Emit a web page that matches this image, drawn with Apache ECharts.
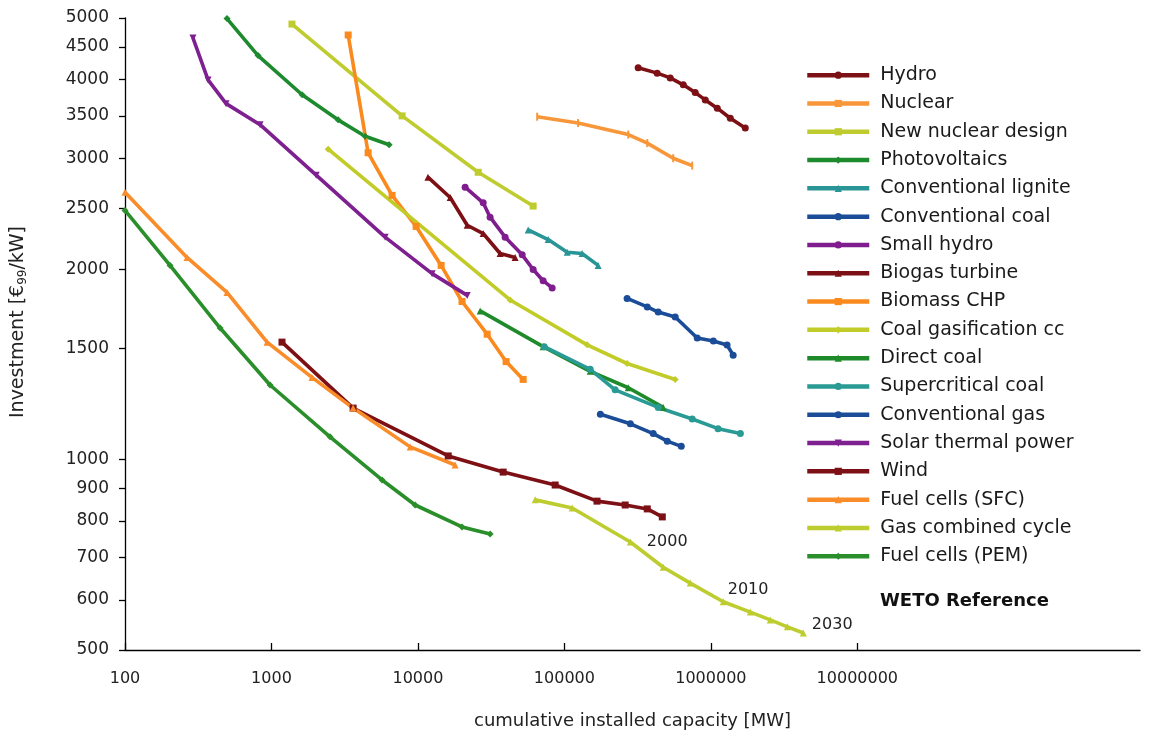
<!DOCTYPE html>
<html>
<head>
<meta charset="utf-8">
<script src="https://cdn.jsdelivr.net/npm/echarts@6/dist/echarts.min.js"></script>
<style>
  html, body { margin: 0; background: #fff; }
  #main { width: 1150px; height: 742px; }
</style>
</head>
<body>
<div id="main"></div>
<script>
  // capacities in MW, investment in EUR99/kW
  const hydroX = [319000, 430000, 528000, 648000, 782000, 916000, 1106000, 1358000, 1718000];
  const hydroY = [4170, 4090, 4020, 3920, 3810, 3710, 3600, 3470, 3350];
  const nuclearX = [65200, 124000, 273000, 368000, 553000, 746000];
  const nuclearY = [3490, 3410, 3270, 3170, 3000, 2920];
  const newNuclearX = [1380, 7800, 25800, 61200];
  const newNuclearY = [4890, 3500, 2850, 2520];
  const pvX = [497, 810, 1620, 2850, 4360, 6360];
  const pvY = [4990, 4360, 3780, 3450, 3250, 3150];
  const ligniteX = [56600, 77500, 104500, 132000, 170000];
  const ligniteY = [2310, 2230, 2130, 2120, 2030];
  const convCoalX = [268000, 368000, 437000, 571000, 807000, 1040000, 1290000, 1420000];
  const convCoalY = [1800, 1745, 1713, 1682, 1558, 1541, 1519, 1464];
  const smallHydroX = [21000, 27900, 31100, 39400, 51500, 61200, 71600, 82500];
  const smallHydroY = [2700, 2550, 2420, 2250, 2110, 2000, 1920, 1870];
  const biogasX = [11700, 16600, 21700, 27900, 36400, 46100];
  const biogasY = [2800, 2600, 2350, 2280, 2120, 2090];
  const biomassX = [3340, 4570, 6660, 9720, 14400, 20000, 29700, 40000, 52300];
  const biomassY = [4700, 3060, 2620, 2340, 2030, 1780, 1580, 1430, 1340];
  const coalGasX = [2440, 42600, 143000, 268000, 571000];
  const coalGasY = [3100, 1790, 1520, 1420, 1340];
  const directCoalX = [26600, 71600, 150000, 273000, 473000];
  const directCoalY = [1720, 1510, 1380, 1300, 1210];
  const superCoalX = [72800, 150000, 222000, 437000, 746000, 1120000, 1590000];
  const superCoalY = [1510, 1390, 1290, 1210, 1160, 1120, 1100];
  const convGasX = [176000, 282000, 404000, 504000, 628000];
  const convGasY = [1180, 1140, 1100, 1070, 1050];
  const solarX = [291, 369, 490, 836, 2020, 5970, 12500, 21700];
  const solarY = [4650, 3990, 3660, 3390, 2820, 2250, 1970, 1820];
  const windX = [1180, 3610, 16100, 38200, 86500, 167000, 260000, 368000, 466000];
  const windY = [1535, 1207, 1014, 956, 912, 860, 848, 836, 812];
  const sfcX = [100, 265, 497, 933, 1890, 3610, 8850, 17950];
  const sfcY = [2650, 2090, 1840, 1535, 1350, 1207, 1048, 981];
  const pemX = [100, 203, 446, 978, 2510, 5690, 9570, 20000, 31100];
  const pemY = [2480, 2030, 1616, 1313, 1087, 929, 848, 783, 763];
  const gccX = [63200, 113000, 282000, 473000, 723000, 1215000, 1860000, 2545000, 3330000, 4280000];
  const gccY = [864, 839, 741, 676, 638, 596, 574, 558, 544, 532];

  const yearLabels = ['2000', '2010', '2030'];
  const yearIdx = [2, 5, 9];

  const xTicks = [100, 1000, 10000, 100000, 1000000, 10000000];
  const yTicks = [500, 600, 700, 800, 900, 1000, 1500, 2000, 2500, 3000, 3500, 4000, 4500, 5000];

  const FONT = 'DejaVu Sans';
  const lg = Math.log10;

  const defs = [
    ['Hydro', hydroX, hydroY, '#7d1015', 'circle'],
    ['Nuclear', nuclearX, nuclearY, '#f8963a', 'rect'],
    ['New nuclear design', newNuclearX, newNuclearY, '#bfcc30', 'rect'],
    ['Photovoltaics', pvX, pvY, '#1d8a2e', 'diamond'],
    ['Conventional lignite', ligniteX, ligniteY, '#2a9596', 'triangle'],
    ['Conventional coal', convCoalX, convCoalY, '#1b4c98', 'circle'],
    ['Small hydro', smallHydroX, smallHydroY, '#801d8e', 'circle'],
    ['Biogas turbine', biogasX, biogasY, '#7d1015', 'triangle'],
    ['Biomass CHP', biomassX, biomassY, '#fb8a1e', 'rect'],
    ['Coal gasification cc', coalGasX, coalGasY, '#c2cc28', 'diamond'],
    ['Direct coal', directCoalX, directCoalY, '#1f8a2a', 'triangle'],
    ['Supercritical coal', superCoalX, superCoalY, '#2a9a95', 'circle'],
    ['Conventional gas', convGasX, convGasY, '#1b4c98', 'circle'],
    ['Solar thermal power', solarX, solarY, '#7f2090', 'triangle'],
    ['Wind', windX, windY, '#7d1015', 'rect'],
    ['Fuel cells (SFC)', sfcX, sfcY, '#fb8c2a', 'triangle'],
    ['Gas combined cycle', gccX, gccY, '#bdcc2e', 'triangle'],
    ['Fuel cells (PEM)', pemX, pemY, '#2a8f2a', 'diamond']
  ];

  const labelOffsets = [[8, 0], [-4, -12], [0, -8]];

  const series = defs.map(function (d) {
    const data = d[1].map(function (x, i) {
      return [lg(x), lg(d[2][i])];
    });
    if (d[0] === 'Gas combined cycle') {
      yearIdx.forEach(function (idx, k) {
        data[idx] = {
          value: data[idx],
          label: {
            show: true, formatter: yearLabels[k], position: 'right',
            offset: labelOffsets[k], fontFamily: FONT, fontSize: 16, color: '#222'
          }
        };
      });
    }
    return {
      name: d[0],
      type: 'line',
      data: data,
      symbol: d[4],
      symbolSize: d[0] === 'Nuclear' ? [2, 8] : 7,
      symbolRotate: d[0] === 'Solar thermal power' ? 180 : 0,
      itemStyle: {color: d[3]},
      lineStyle: {color: d[3], width: 3.6},
      silent: true
    };
  });

  const chart = echarts.init(document.getElementById('main'));
  chart.setOption({
    animation: false,
    backgroundColor: '#fff',
    grid: {left: 125, right: 10, top: 18, bottom: 92},
    legend: {
      orient: 'vertical', left: 800, top: 56,
      itemWidth: 62, itemHeight: 9, itemGap: 0,
      lineStyle: {width: 4.5},
      textStyle: {fontFamily: FONT, fontSize: 19, color: '#1a1a1a', lineHeight: 28.3, padding: [0, 0, 0, 6]},
      data: defs.map(function (d) { return d[0]; })
    },
    xAxis: {
      type: 'value', min: 2, max: 8.93,
      axisLine: {show: true, onZero: false, lineStyle: {color: '#000', width: 1.3}},
      axisTick: {show: true, inside: true, length: 7, customValues: xTicks.map(lg), lineStyle: {color: '#000', width: 1.3}},
      axisLabel: {
        customValues: xTicks.map(lg), margin: 21, fontFamily: FONT, fontSize: 16, color: '#222',
        formatter: function (v) { return String(Math.round(Math.pow(10, v))); }
      },
      splitLine: {show: false},
      name: 'cumulative installed capacity [MW]', nameLocation: 'middle', nameGap: 62,
      nameTextStyle: {fontFamily: FONT, fontSize: 18, color: '#222'}
    },
    yAxis: {
      type: 'value', min: lg(500), max: lg(5000),
      axisLine: {show: true, onZero: false, lineStyle: {color: '#000', width: 1.3}},
      axisTick: {show: true, length: 6, customValues: yTicks.map(lg), lineStyle: {color: '#000', width: 1.3}},
      axisLabel: {
        customValues: yTicks.map(lg), margin: 16, fontFamily: FONT, fontSize: 17, color: '#222',
        formatter: function (v) { return String(Math.round(Math.pow(10, v))); }
      },
      splitLine: {show: false},
      name: '{a|Investment [€}{s|99}{a|/kW]}', nameLocation: 'middle', nameGap: 96,
      nameTextStyle: {
        padding: [0, 0, 0, 24],
        rich: {
          a: {fontFamily: FONT, fontSize: 19, color: '#222', lineHeight: 22},
          s: {fontFamily: FONT, fontSize: 12, color: '#222', lineHeight: 12, verticalAlign: 'bottom'}
        }
      }
    },
    graphic: [{
      type: 'text', left: 880, top: 592,
      style: {text: 'WETO Reference', fontFamily: FONT, fontSize: 18, fontWeight: 'bold', fill: '#111'}
    }],
    series: series
  });
</script>
</body>
</html>
